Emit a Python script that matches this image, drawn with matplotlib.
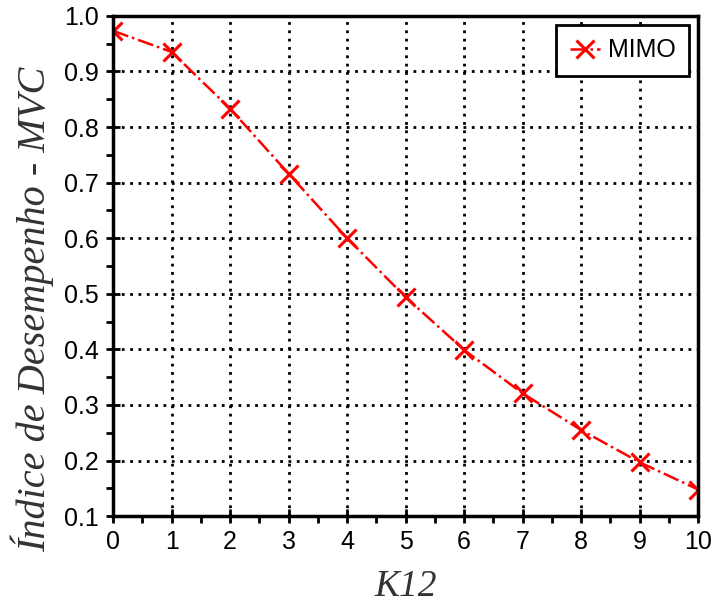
import numpy as np
import matplotlib
matplotlib.use('Agg')
import matplotlib.pyplot as plt
from matplotlib.ticker import MultipleLocator

# data
k12 = [0, 1, 2, 3, 4, 5, 6, 7, 8, 9, 10]
indice = [0.973, 0.935, 0.833, 0.716, 0.600, 0.494, 0.399, 0.321, 0.255, 0.197, 0.148]

x_ticks = list(range(0, 11))
y_ticks = [0.1, 0.2, 0.3, 0.4, 0.5, 0.6, 0.7, 0.8, 0.9, 1.0]

fig = plt.figure(figsize=(7.16, 6.08), dpi=100)
ax = fig.add_axes([0.158, 0.151, 0.817, 0.823])

ax.plot(k12, indice, color='red', linestyle='-.', linewidth=1.8,
        marker='x', markersize=13, markeredgewidth=2.2, label='MIMO')

ax.set_xlim(0, 10)
ax.set_ylim(0.1, 1.0)
ax.set_xticks(x_ticks)
ax.set_yticks(y_ticks)
ax.set_yticklabels(['%.1f' % v for v in y_ticks])
ax.xaxis.set_minor_locator(MultipleLocator(0.5))
ax.yaxis.set_minor_locator(MultipleLocator(0.05))

ax.grid(True, which='major', color='black', linestyle=(0, (1, 2)), linewidth=2)
ax.set_axisbelow(True)

for s in ax.spines.values():
    s.set_linewidth(2.5)

ax.tick_params(which='major', direction='inout', length=10, width=2,
               labelsize=18, pad=5)
ax.tick_params(which='minor', direction='out', length=5, width=2)
for lab in ax.get_xticklabels() + ax.get_yticklabels():
    lab.set_family('Liberation Sans')

ax.set_xlabel('K12', family='Liberation Serif', style='italic', fontsize=27,
              color='#333333', labelpad=11)
ax.set_ylabel('Índice de Desempenho - MVC', family='Liberation Serif',
              style='italic', fontsize=29, color='#333333')
ax.yaxis.set_label_coords(-0.101, 0.414)

leg = ax.legend(loc='upper right', prop={'family': 'Liberation Sans', 'size': 18},
                fancybox=False, framealpha=1, edgecolor='black',
                handlelength=1.2, handletextpad=0.3, borderpad=0.55,
                borderaxespad=0.35)
leg.get_frame().set_linewidth(2)

fig.savefig('out.png', dpi=100)
